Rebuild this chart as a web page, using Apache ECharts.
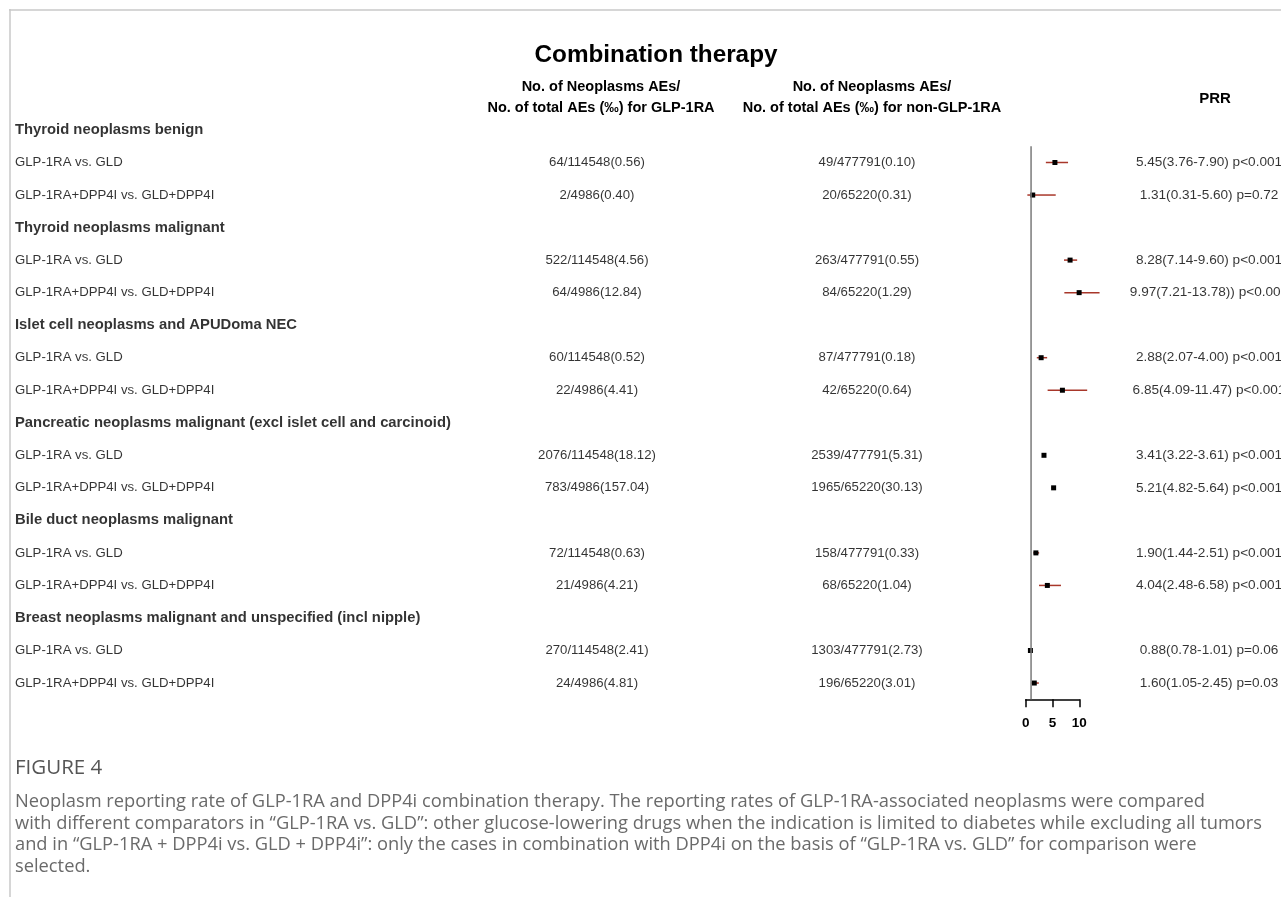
<!DOCTYPE html>
<html>
<head>
<meta charset="utf-8">
<script src="https://cdn.jsdelivr.net/npm/echarts@6/dist/echarts.min.js"></script>
<style>
html,body{margin:0;padding:0;background:#fff;}
#chart{width:1281px;height:897px;}
</style>
</head>
<body>
<div id="chart"></div>
<script>
const groups = [
  'Thyroid neoplasms benign',
  'Thyroid neoplasms malignant',
  'Islet cell neoplasms and APUDoma NEC',
  'Pancreatic neoplasms malignant (excl islet cell and carcinoid)',
  'Bile duct neoplasms malignant',
  'Breast neoplasms malignant and unspecified (incl nipple)'
];
const comparisons = ['GLP-1RA vs. GLD', 'GLP-1RA+DPP4I vs. GLD+DPP4I'];
const glpAEs = ['64/114548(0.56)','2/4986(0.40)','522/114548(4.56)','64/4986(12.84)','60/114548(0.52)','22/4986(4.41)',
  '2076/114548(18.12)','783/4986(157.04)','72/114548(0.63)','21/4986(4.21)','270/114548(2.41)','24/4986(4.81)'];
const nonGlpAEs = ['49/477791(0.10)','20/65220(0.31)','263/477791(0.55)','84/65220(1.29)','87/477791(0.18)','42/65220(0.64)',
  '2539/477791(5.31)','1965/65220(30.13)','158/477791(0.33)','68/65220(1.04)','1303/477791(2.73)','196/65220(3.01)'];
const prr = [5.45,1.31,8.28,9.97,2.88,6.85,3.41,5.21,1.90,4.04,0.88,1.60];
const prrLower = [3.76,0.31,7.14,7.21,2.07,4.09,3.22,4.82,1.44,2.48,0.78,1.05];
const prrUpper = [7.90,5.60,9.60,13.78,4.00,11.47,3.61,5.64,2.51,6.58,1.01,2.45];
const prrLabels = ['5.45(3.76-7.90) p<0.001','1.31(0.31-5.60) p=0.72','8.28(7.14-9.60) p<0.001','9.97(7.21-13.78)) p<0.001',
  '2.88(2.07-4.00) p<0.001','6.85(4.09-11.47) p<0.001','3.41(3.22-3.61) p<0.001','5.21(4.82-5.64) p<0.001',
  '1.90(1.44-2.51) p<0.001','4.04(2.48-6.58) p<0.001','0.88(0.78-1.01) p=0.06','1.60(1.05-2.45) p=0.03'];
const xTicks = [0, 5, 10];
const refValue = 1;

// build row layout: each group = header row + 2 comparison rows
const nRows = groups.length * (comparisons.length + 1);
const leftCol = [], col2 = [], col3 = [], col4 = [], forest = [];
groups.forEach((g, gi) => {
  const base = gi * (comparisons.length + 1);
  leftCol.push({value: [0, base], name: g, header: true});
  comparisons.forEach((c, ci) => {
    const k = gi * comparisons.length + ci;
    const r = base + 1 + ci;
    leftCol.push({value: [0, r], name: c, header: false});
    col2.push({value: [0, r], name: glpAEs[k]});
    col3.push({value: [0, r], name: nonGlpAEs[k]});
    col4.push({value: [0, r], name: prrLabels[k]});
    forest.push([prr[k], prrLower[k], prrUpper[k], r]);
  });
});

const chart = echarts.init(document.getElementById('chart'), null, {renderer: 'canvas'});

const rowTop = 113.7, rowBottomPx = 699.3;
const H = 897;
function mkGrid(left, width) {
  return {left: left, width: width, top: rowTop, bottom: H - rowBottomPx, containLabel: false};
}
const yAx = (gi) => ({type: 'value', gridIndex: gi, min: -0.5, max: nRows - 0.5, inverse: true, show: false});
const xAxHidden = (gi) => ({type: 'value', gridIndex: gi, min: 0, max: 1, show: false});

const sans = "'Liberation Sans', Arial, sans-serif";

const textSeries = (gi, data, align, fmtFn) => ({
  type: 'scatter', xAxisIndex: gi, yAxisIndex: gi, symbolSize: 0, silent: true, data: data,
  label: {
    show: true,
    position: align === 'left' ? 'right' : 'inside',
    distance: 0,
    align: align,
    verticalAlign: 'middle',
    formatter: fmtFn,
    rich: {
      h: {fontFamily: sans, fontWeight: 'bold', fontSize: 14.8, color: '#000'},
      r: {fontFamily: sans, fontSize: 13.2, color: '#000'},
      p: {fontFamily: sans, fontSize: 13.6, color: '#000'}
    }
  }
});

const option = {
  backgroundColor: '#fff',
  animation: false,
  title: [
    {text: 'Combination therapy', left: 651, top: 38, textAlign: 'center',
     textStyle: {fontFamily: sans, fontWeight: 'bold', fontSize: 24.3, color: '#000'}},
    {text: 'No. of Neoplasms AEs/\nNo. of total AEs (‰) for GLP-1RA', left: 596, top: 72, textAlign: 'center',
     textStyle: {fontFamily: sans, fontWeight: 'bold', fontSize: 14.5, lineHeight: 20.5, color: '#000'}},
    {text: 'No. of Neoplasms AEs/\nNo. of total AEs (‰) for non-GLP-1RA', left: 867, top: 72, textAlign: 'center',
     textStyle: {fontFamily: sans, fontWeight: 'bold', fontSize: 14.5, lineHeight: 20.5, color: '#000'}},
    {text: 'PRR', left: 1210, top: 86, textAlign: 'center',
     textStyle: {fontFamily: sans, fontWeight: 'bold', fontSize: 15, color: '#000'}}
  ],
  grid: [
    mkGrid(15, 1),
    mkGrid(597, 1),
    mkGrid(867, 1),
    mkGrid(1209, 1),
    mkGrid(1025.7, 53.6)
  ],
  xAxis: [
    xAxHidden(0), xAxHidden(1), xAxHidden(2), xAxHidden(3),
    {type: 'value', gridIndex: 4, min: xTicks[0], max: xTicks[xTicks.length - 1], interval: 5,
     splitLine: {show: false},
     axisLine: {show: true, onZero: false, lineStyle: {color: '#000', width: 1.5}},
     axisTick: {show: true, length: 8, lineStyle: {color: '#000', width: 1.5}},
     axisLabel: {margin: 17, fontFamily: sans, fontWeight: 'bold', fontSize: 13.5, color: '#000'}}
  ],
  yAxis: [yAx(0), yAx(1), yAx(2), yAx(3), yAx(4)],
  series: [
    textSeries(0, leftCol, 'left', p => p.data.header ? '{h|' + p.data.name + '}' : '{r|' + p.data.name + '}'),
    textSeries(1, col2, 'center', p => '{r|' + p.data.name + '}'),
    textSeries(2, col3, 'center', p => '{r|' + p.data.name + '}'),
    textSeries(3, col4, 'center', p => '{p|' + p.data.name + '}'),
    {
      type: 'line', xAxisIndex: 4, yAxisIndex: 4, silent: true, symbol: 'none',
      data: [[refValue, 0.5], [refValue, nRows - 0.5]],
      lineStyle: {color: '#7a7a7a', width: 1.5}
    },
    {
      type: 'custom', xAxisIndex: 4, yAxisIndex: 4, silent: true, clip: false,
      data: forest,
      renderItem: function (params, api) {
        const y = api.value(3);
        const p = api.coord([api.value(0), y]);
        const l = api.coord([api.value(1), y]);
        const u = api.coord([api.value(2), y]);
        return {
          type: 'group',
          children: [
            {type: 'line', shape: {x1: l[0], y1: l[1], x2: u[0], y2: u[1]},
             style: {stroke: '#a8372a', lineWidth: 1.5}},
            {type: 'rect', shape: {x: p[0] - 2.5, y: p[1] - 2.5, width: 5, height: 5},
             style: {fill: '#000'}}
          ]
        };
      }
    }
  ],
  graphic: [
    {type: 'line', silent: true, shape: {x1: 9, y1: 10, x2: 1281, y2: 10}, style: {stroke: '#c8c8c8', lineWidth: 1.5}},
    {type: 'line', silent: true, shape: {x1: 10, y1: 9, x2: 10, y2: 897}, style: {stroke: '#c8c8c8', lineWidth: 1.5}},
    {type: 'text', silent: true, left: 15, top: 758,
     style: {text: 'FIGURE 4', fontFamily: "'Open Sans', sans-serif", fontSize: 20.5, fill: '#555'}},
    {type: 'text', silent: true, left: 15, top: 791,
     style: {
       text: 'Neoplasm reporting rate of GLP-1RA and DPP4i combination therapy. The reporting rates of GLP-1RA-associated neoplasms were compared\n' +
             'with different comparators in \u201cGLP-1RA vs. GLD\u201d: other glucose-lowering drugs when the indication is limited to diabetes while excluding all tumors\n' +
             'and in \u201cGLP-1RA + DPP4i vs. GLD + DPP4i\u201d: only the cases in combination with DPP4i on the basis of \u201cGLP-1RA vs. GLD\u201d for comparison were\n' +
             'selected.',
       fontFamily: "'Open Sans', sans-serif", fontSize: 18.3, lineHeight: 21.7, fill: '#6a6a6a'
     }}
  ]
};
chart.setOption(option);
</script>
</body>
</html>
